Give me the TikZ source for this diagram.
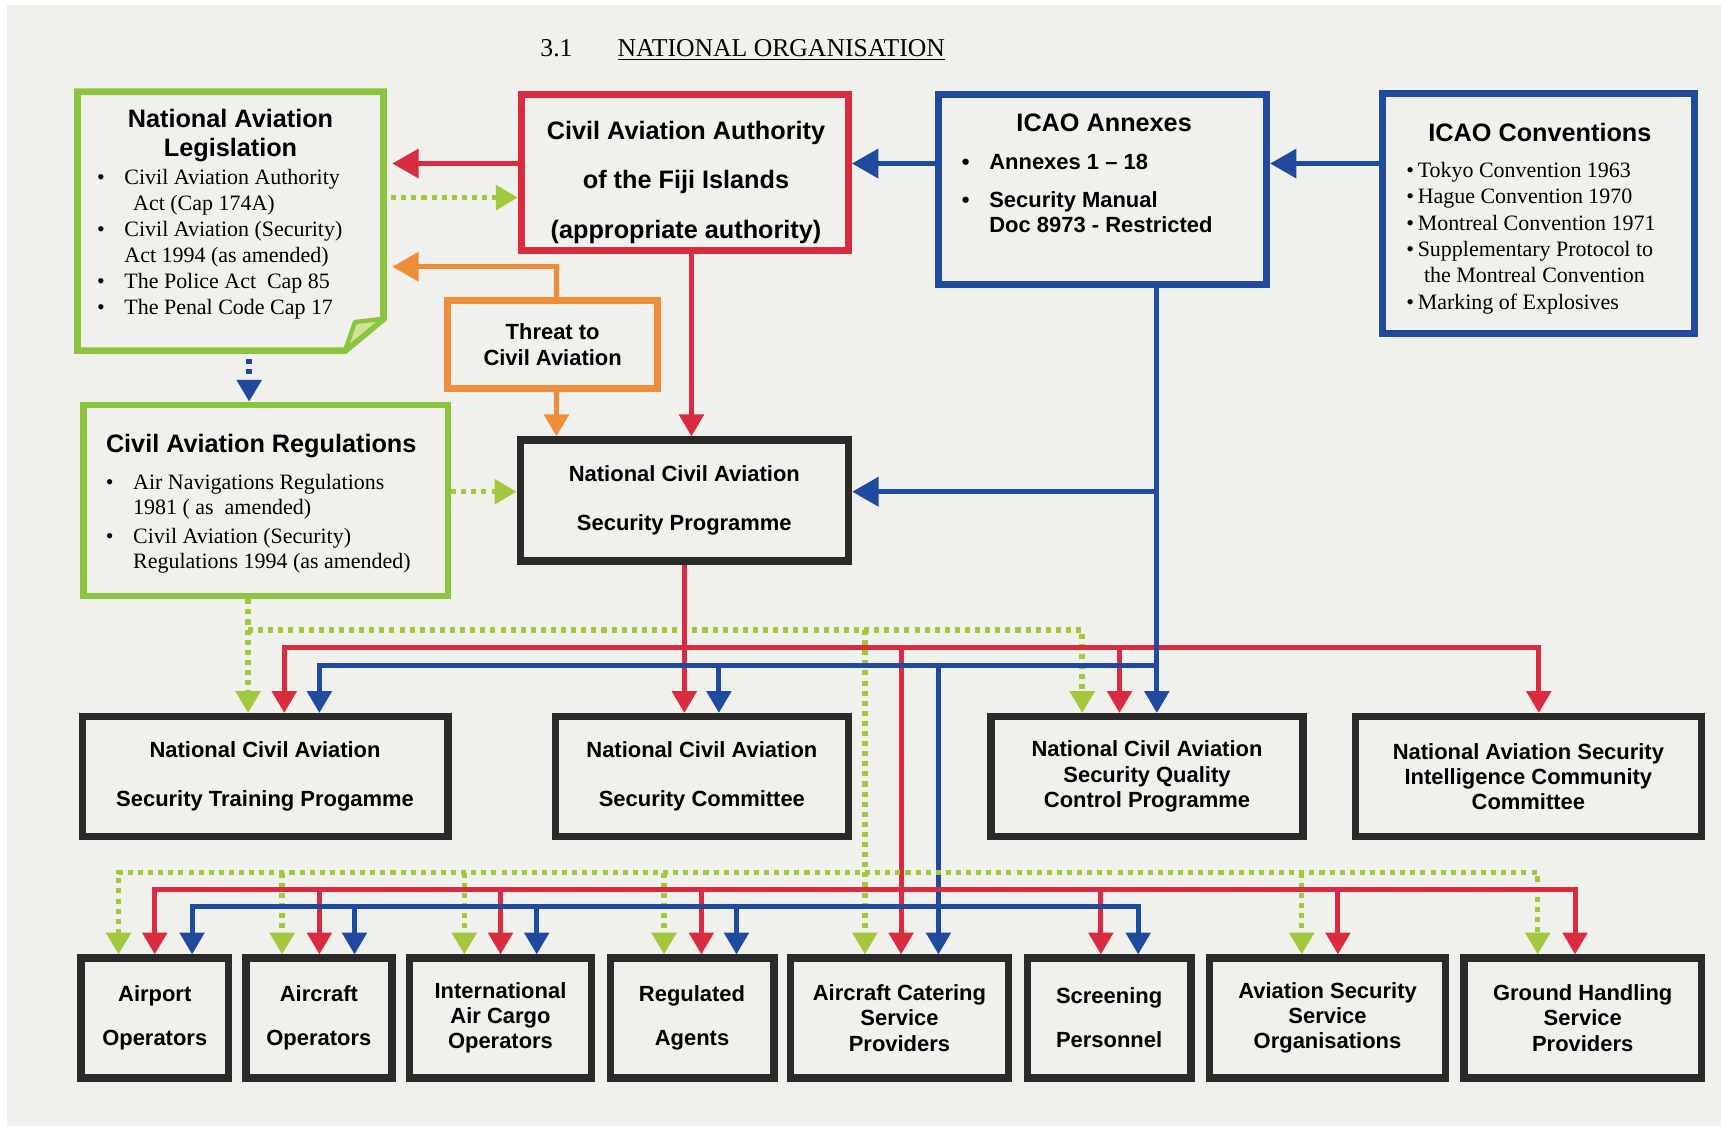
\documentclass[tikz,border=0pt]{standalone}
\usepackage{fontspec}
\setmainfont{Liberation Serif}
\setsansfont{Liberation Sans}
\usetikzlibrary{arrows.meta}

\definecolor{paper}{RGB}{240,240,237}
\definecolor{redc}{RGB}{218,44,64}
\definecolor{bluec}{RGB}{32,74,158}
\definecolor{greenc}{RGB}{140,196,62}
\definecolor{greenl}{RGB}{162,200,62}
\definecolor{orangec}{RGB}{238,142,58}
\definecolor{darkc}{RGB}{42,42,42}
\definecolor{foldc}{RGB}{205,228,150}

\newcommand{\itm}{\makebox[12.5pt][l]{\textbullet}}

\begin{document}
\begin{tikzpicture}[x=0.5pt,y=-0.5pt,
    box/.style={draw=darkc,line width=3.4pt,fill=paper,inner sep=0pt,align=center,
        font=\sffamily\bfseries\fontsize{10}{11.5}\selectfont},
    roomy/.style={font=\sffamily\bfseries\fontsize{10}{22.5}\selectfont},
    roomier/.style={font=\sffamily\bfseries\fontsize{10}{20}\selectfont},
    htxt/.style={inner sep=0pt,align=center,font=\sffamily\bfseries\fontsize{11.5}{13.5}\selectfont},
    bullets/.style={inner sep=0pt,align=left,anchor=west,font=\rmfamily\fontsize{10}{11.9}\selectfont},
    rline/.style={draw=redc,line width=2.3pt},
    bline/.style={draw=bluec,line width=2.3pt},
    oline/.style={draw=orangec,line width=2.3pt},
    gdot/.style={draw=greenl,line width=2.5pt,dash pattern=on 2.3pt off 2.3pt},
    bdot/.style={draw=bluec,line width=2.5pt,dash pattern=on 2.3pt off 2.3pt},
    tip/.style={-{Triangle[width=11pt,length=10pt]}},
    twotips/.style={{Triangle[width=11pt,length=10pt]}-{Triangle[width=11pt,length=10pt]}},
    bigtip/.style={-{Triangle[width=13pt,length=12pt]}}]

    \fill[white] (0,0) rectangle (1568,1026);
    \fill[paper] (6,4.5) rectangle (1568,1026);
    \useasboundingbox (0,0) rectangle (1568,1026);

    \node[anchor=base west,inner sep=0pt,font=\rmfamily\fontsize{11.7}{13}\selectfont] (ttl) at (492,51.5)
        {3.1\hspace{20.5pt}\underline{NATIONAL ORGANISATION}};

    % legislation, with a folded corner
    \node[minimum width=139pt,minimum height=117.5pt,inner sep=0pt] (leg) at (210,201.5) {};
    \draw[greenc,line width=3pt,fill=paper] (leg.north west) -- (leg.north east)
        -- ([yshift=14.5pt]leg.south east) -- ([xshift=-17.5pt]leg.south east) -- (leg.south west) -- cycle;
    \draw[greenc,line width=2pt,fill=foldc,line join=round] ([yshift=14.5pt]leg.south east)
        -- ([xshift=-13pt,yshift=13pt]leg.south east) -- ([xshift=-17.5pt]leg.south east) -- cycle;
    \node[htxt] (legT) at (210,123.5) {National Aviation\\Legislation};
    \node[bullets] (legL) at (88,222.5) {\itm Civil Aviation Authority\\\hspace*{16.5pt}Act (Cap 174A)\\
        \itm Civil Aviation (Security)\\\hspace*{12.5pt}Act 1994 (as amended)\\
        \itm The Police Act\ \ Cap 85\\\itm The Penal Code Cap 17};

    \node[box,draw=redc,line width=3.2pt,minimum width=149pt,minimum height=71pt] (caa) at (624,157) {};
    \node[htxt,font=\sffamily\bfseries\fontsize{11.5}{22.5}\selectfont] (caaT) at (625,166)
        {Civil Aviation Authority\\of the Fiji Islands\\(appropriate authority)};

    \node[box,draw=bluec,line width=3.2pt,minimum width=149.5pt,minimum height=86.5pt] (anx) at (1004.5,172.5) {};
    \node[htxt] (anxT) at (1006,112) {ICAO Annexes};
    \node[bullets,font=\sffamily\bfseries\fontsize{10}{11.5}\selectfont] (anxL) at (876,176.5)
        {\itm Annexes 1 -- 18\\[5.5pt]\itm Security Manual\\\hspace*{12.5pt}Doc 8973 - Restricted};

    \node[box,draw=bluec,line width=3.2pt,minimum width=142pt,minimum height=109.5pt] (conv) at (1402,194.5) {};
    \node[htxt] (convT) at (1403,121) {ICAO Conventions};
    \node[bullets,font=\rmfamily\fontsize{10}{12}\selectfont] (convL) at (1281,217)
        {\textbullet\,Tokyo Convention 1963\\\textbullet\,Hague Convention 1970\\
        \textbullet\,Montreal Convention 1971\\\textbullet\,Supplementary Protocol to\\
        \hspace*{8pt}the Montreal Convention\\\textbullet\,Marking of Explosives};

    \node[box,draw=orangec,line width=3.2pt,minimum width=95.5pt,minimum height=40pt] (thr) at (503.5,314)
        {Threat to\\Civil Aviation};

    \node[box,draw=greenc,line width=3pt,minimum width=166pt,minimum height=87pt] (reg) at (242,456) {};
    \node[htxt] (regT) at (238,406) {Civil Aviation Regulations};
    \node[bullets,font=\rmfamily\fontsize{10}{11.5}\selectfont] (regL) at (96,477)
        {\itm Air Navigations Regulations\\\hspace*{12.5pt}1981 ( as\ \ amended)\\[1.5pt]
        \itm Civil Aviation (Security)\\\hspace*{12.5pt}Regulations 1994 (as amended)};

    \node[box,roomy,minimum width=149.5pt,minimum height=55pt] (ncasp) at (623.5,456)
        {National Civil Aviation\\Security Programme};

    % second row
    \node[box,roomy,minimum width=166.5pt,minimum height=54.5pt] (trn) at (241.5,707.5)
        {National Civil Aviation\\Security Training Progamme};
    \node[box,roomy,minimum width=133.5pt,minimum height=54.5pt] (com) at (639.5,707.5)
        {National Civil Aviation\\Security Committee};
    \node[box,minimum width=142pt,minimum height=54.5pt] (qcp) at (1045,707.5)
        {National Civil Aviation\\Security Quality\\Control Programme};
    \node[box,minimum width=157.5pt,minimum height=54.5pt] (nasic) at (1392.5,707.5)
        {National Aviation Security\\Intelligence Community\\Committee};

    % third row
    \node[box,roomier,minimum width=67pt,minimum height=54.5pt] (apo) at (141,927.5) {Airport\\Operators};
    \node[box,roomier,minimum width=66.5pt,minimum height=54.5pt] (aco) at (290.5,927.5) {Aircraft\\Operators};
    \node[box,minimum width=83pt,minimum height=54.5pt] (iac) at (456,927.5) {International\\Air Cargo\\Operators};
    \node[box,roomier,minimum width=74.5pt,minimum height=54.5pt] (rga) at (630.5,927.5) {Regulated\\Agents};
    \node[box,minimum width=99.5pt,minimum height=54.5pt] (acs) at (819.5,927.5) {Aircraft Catering\\Service\\Providers};
    \node[box,roomier,minimum width=74.5pt,minimum height=54.5pt] (scr) at (1010.5,927.5) {Screening\\Personnel};
    \node[box,minimum width=107.5pt,minimum height=54.5pt] (avs) at (1209.5,927.5) {Aviation Security\\Service\\Organisations};
    \node[box,minimum width=108pt,minimum height=54.5pt] (ghs) at (1442,927.5) {Ground Handling\\Service\\Providers};

    % top connectors
    \draw[rline,bigtip,shorten >=4pt] (caa.west |- 0,149) -- (leg.east |- 0,149);
    \draw[gdot,tip,shorten <=3.5pt] (leg.east |- 0,180) -- (caa.west |- 0,180);
    \draw[bline,bigtip] (anx.west |- 0,149) -- (caa.east |- 0,149);
    \draw[bline,bigtip] (conv.west |- 0,149) -- (anx.east |- 0,149);
    \draw[oline,bigtip,shorten >=4pt] (thr.north -| 507,0) |- (leg.east |- 0,243);
    \draw[oline,tip] (thr.south -| 507,0) -- (ncasp.north -| 507,0);
    \draw[rline,tip] (caa.south -| 630,0) -- (ncasp.north -| 630,0);
    \draw[bdot,tip,shorten <=4pt] (leg.south -| 227,0) -- (reg.north -| 227,0);
    \draw[gdot,tip] (reg.east |- 0,448) -- (ncasp.west |- 0,448);

    % buses to the second row
    \coordinate (gA) at (226,574);
    \coordinate (gB) at (986,574);
    \coordinate (gC) at (788,574);
    \coordinate (rA) at (259,590);
    \coordinate (rB) at (1402,590);
    \coordinate (rQ) at (1020,590);
    \coordinate (rC) at (821,590);
    \coordinate (bA) at (291,606);
    \coordinate (bB) at (1054,606);
    \coordinate (bM) at (655,606);
    \coordinate (bC) at (855,606);
    \coordinate (bN) at (1054,448);

    \draw[gdot,tip] (reg.south -| gA) -- (gA |- trn.north);
    \draw[gdot,tip] (gA) -- (gB) -- (gB |- qcp.north);
    \draw[gdot,tip] (gC) -- (gC |- acs.north);
    \draw[rline,twotips] (rA |- trn.north) -- (rA) -- (rB) -- (rB |- nasic.north);
    \draw[rline,tip] (ncasp.south) -- (ncasp.south |- com.north);
    \draw[rline,tip] (rQ) -- (rQ |- qcp.north);
    \draw[rline,tip] (rC) -- (rC |- acs.north);
    \draw[bline,tip] (anx.south -| bB) -- (bB |- qcp.north);
    \draw[bline,bigtip] (bN) -- (bN -| ncasp.east);
    \draw[bline,tip] (bB) -| (bA |- trn.north);
    \draw[bline,tip] (bM) -- (bM |- com.north);
    \draw[bline,tip] (bC) -- (bC |- acs.north);

    % buses to the third row
    \coordinate (g1) at (108,795);
    \coordinate (g2) at (257,795);
    \coordinate (g3) at (423,795);
    \coordinate (g4) at (605,795);
    \coordinate (g6) at (1186,795);
    \coordinate (g8) at (1401,795);
    \coordinate (r1) at (141,810);
    \coordinate (r2) at (291,810);
    \coordinate (r3) at (456,810);
    \coordinate (r4) at (639,810);
    \coordinate (r6) at (1003,810);
    \coordinate (r7) at (1219,810);
    \coordinate (r8) at (1435,810);
    \coordinate (b1) at (175,826);
    \coordinate (b2) at (323,826);
    \coordinate (b3) at (489,826);
    \coordinate (b4) at (671,826);
    \coordinate (b6) at (1037,826);

    \draw[gdot,twotips] (g1 |- apo.north) -- (g1) -- (g8) -- (g8 |- ghs.north);
    \draw[gdot,tip] (g2) -- (g2 |- aco.north);
    \draw[gdot,tip] (g3) -- (g3 |- iac.north);
    \draw[gdot,tip] (g4) -- (g4 |- rga.north);
    \draw[gdot,tip] (g6) -- (g6 |- avs.north);
    \draw[rline,twotips] (r1 |- apo.north) -- (r1) -- (r8) -- (r8 |- ghs.north);
    \draw[rline,tip] (r2) -- (r2 |- aco.north);
    \draw[rline,tip] (r3) -- (r3 |- iac.north);
    \draw[rline,tip] (r4) -- (r4 |- rga.north);
    \draw[rline,tip] (r6) -- (r6 |- scr.north);
    \draw[rline,tip] (r7) -- (r7 |- avs.north);
    \draw[bline,twotips] (b1 |- apo.north) -- (b1) -- (b6) -- (b6 |- scr.north);
    \draw[bline,tip] (b2) -- (b2 |- aco.north);
    \draw[bline,tip] (b3) -- (b3 |- iac.north);
    \draw[bline,tip] (b4) -- (b4 |- rga.north);
\end{tikzpicture}
\end{document}
